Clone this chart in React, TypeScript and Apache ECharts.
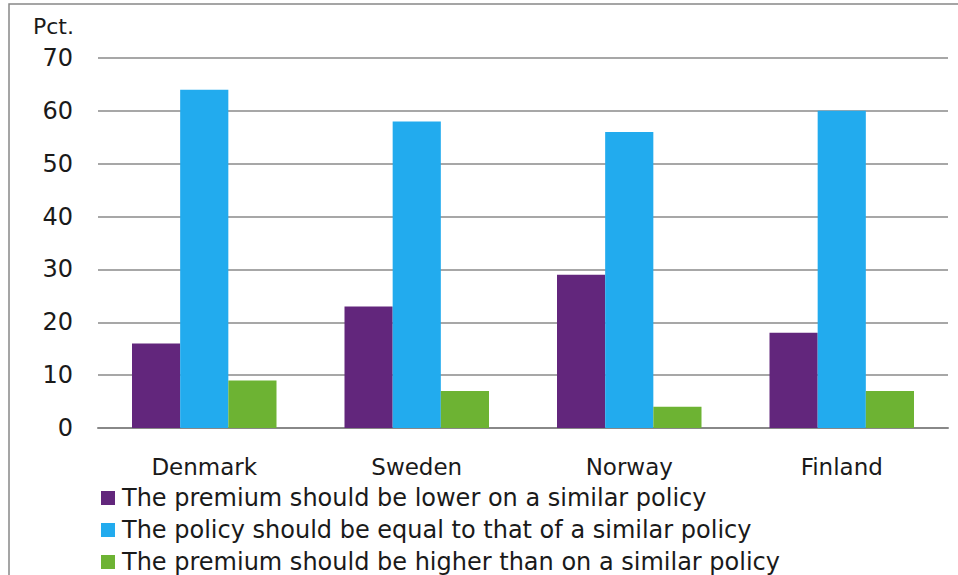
import React, { useEffect, useRef } from "react";
import * as echarts from "echarts";

const categories = ["Denmark", "Sweden", "Norway", "Finland"];
const seriesNames = [
  "The premium should be lower on a similar policy",
  "The policy should be equal to that of a similar policy",
  "The premium should be higher than on a similar policy",
];
const lowerValues = [16, 23, 29, 18];
const equalValues = [64, 58, 56, 60];
const higherValues = [9, 7, 4, 7];
const colors = ["#62267c", "#22abee", "#6db333"];
const yAxisName = "Pct.";

const FONT = "'DejaVu Sans', Verdana, sans-serif";

export default function App() {
  const ref = useRef<HTMLDivElement>(null);
  useEffect(() => {
    if (!ref.current) return;
    const chart = echarts.init(ref.current, undefined, { renderer: "svg" });
    const values = [lowerValues, equalValues, higherValues];
    chart.setOption({
      animation: false,
      backgroundColor: "#ffffff",
      textStyle: { fontFamily: FONT },
      grid: { left: 98, right: 10, top: 58, bottom: 147, containLabel: false },
      graphic: [
        {
          type: "rect",
          shape: { x: 9, y: 4, width: 980, height: 600 },
          style: { fill: "none", stroke: "#888888", lineWidth: 1.5 },
          silent: true,
        },
        {
          type: "text",
          x: 33,
          y: 26,
          style: {
            text: yAxisName,
            fontFamily: FONT,
            fontSize: 22,
            fill: "#1a1a1a",
            verticalAlign: "middle",
            align: "left",
          },
        },
      ],
      legend: {
        orient: "vertical",
        left: 101,
        top: 486,
        height: 100,
        padding: 0,
        itemWidth: 14,
        itemHeight: 14,
        itemGap: 8,
        icon: "rect",
        textStyle: { fontFamily: FONT, fontSize: 24, color: "#1a1a1a", lineHeight: 24, padding: [0, 0, 0, 2] },
        data: seriesNames,
      },
      xAxis: {
        type: "category",
        data: categories,
        axisLine: { lineStyle: { color: "#888888", width: 2 } },
        axisTick: { show: false },
        axisLabel: { fontFamily: FONT, fontSize: 23, color: "#1a1a1a", margin: 27 },
      },
      yAxis: {
        type: "value",
        min: 0,
        max: 70,
        interval: 10,
        axisLine: { show: false },
        axisTick: { show: false },
        axisLabel: { fontFamily: FONT, fontSize: 24, color: "#1a1a1a", margin: 25 },
        splitLine: { lineStyle: { color: "#8a8a8a", width: 1.5 } },
      },
      series: seriesNames.map((name, i) => ({
        name,
        type: "bar",
        data: values[i],
        barGap: "0%",
        barCategoryGap: "32%",
        itemStyle: { color: colors[i] },
      })),
    });
    return () => chart.dispose();
  }, []);
  return (
    <div
      ref={ref}
      style={{ position: "fixed", left: 0, top: 0, width: 958, height: 575 }}
    />
  );
}
